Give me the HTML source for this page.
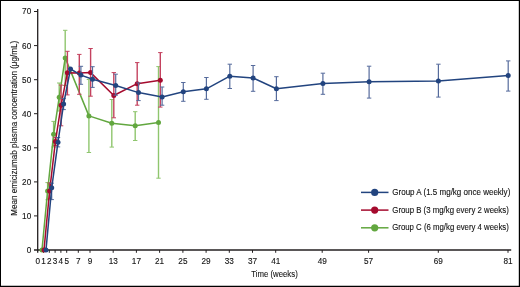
<!DOCTYPE html>
<html><head><meta charset="utf-8"><title>Mean emicizumab plasma concentration</title>
<style>
html,body{margin:0;padding:0;background:#fff;}
body{width:520px;height:287px;overflow:hidden;position:relative;}
svg{position:absolute;left:0;top:0;display:block;}
text{font-family:"Liberation Sans",sans-serif;fill:#151213;stroke:#151213;stroke-width:0.12px;}
.tx{filter:grayscale(1);}
</style></head><body>
<svg width="520" height="287" viewBox="0 0 520 287">
<rect x="0" y="0" width="520" height="287" fill="#fff"/>

<path d="M37.7 9V252.8" stroke="#231f20" stroke-width="1.3" fill="none"/>
<path d="M34 250H511.2" stroke="#231f20" stroke-width="1.3" fill="none"/>
<path d="M34 215.9H37.7" stroke="#231f20" stroke-width="1" fill="none"/>
<path d="M34 181.9H37.7" stroke="#231f20" stroke-width="1" fill="none"/>
<path d="M34 147.8H37.7" stroke="#231f20" stroke-width="1" fill="none"/>
<path d="M34 113.7H37.7" stroke="#231f20" stroke-width="1" fill="none"/>
<path d="M34 79.7H37.7" stroke="#231f20" stroke-width="1" fill="none"/>
<path d="M34 45.6H37.7" stroke="#231f20" stroke-width="1" fill="none"/>
<path d="M34 11.5H37.7" stroke="#231f20" stroke-width="1" fill="none"/>
<text class="tx" x="31.2" y="252.9" font-size="8.2" text-anchor="end">0</text>
<text class="tx" x="31.2" y="218.8" font-size="8.2" text-anchor="end">10</text>
<text class="tx" x="31.2" y="184.8" font-size="8.2" text-anchor="end">20</text>
<text class="tx" x="31.2" y="150.7" font-size="8.2" text-anchor="end">30</text>
<text class="tx" x="31.2" y="116.6" font-size="8.2" text-anchor="end">40</text>
<text class="tx" x="31.2" y="82.6" font-size="8.2" text-anchor="end">50</text>
<text class="tx" x="31.2" y="48.5" font-size="8.2" text-anchor="end">60</text>
<text class="tx" x="31.2" y="14.4" font-size="8.2" text-anchor="end">70</text>
<text class="tx" x="37.7" y="263.6" font-size="8.2" text-anchor="middle">0</text>
<path d="M43.5 250V252.8" stroke="#231f20" stroke-width="1" fill="none"/>
<text class="tx" x="43.5" y="263.6" font-size="8.2" text-anchor="middle">1</text>
<path d="M49.3 250V252.8" stroke="#231f20" stroke-width="1" fill="none"/>
<text class="tx" x="49.3" y="263.6" font-size="8.2" text-anchor="middle">2</text>
<path d="M55.1 250V252.8" stroke="#231f20" stroke-width="1" fill="none"/>
<text class="tx" x="55.1" y="263.6" font-size="8.2" text-anchor="middle">3</text>
<path d="M60.9 250V252.8" stroke="#231f20" stroke-width="1" fill="none"/>
<text class="tx" x="60.9" y="263.6" font-size="8.2" text-anchor="middle">4</text>
<path d="M66.7 250V252.8" stroke="#231f20" stroke-width="1" fill="none"/>
<text class="tx" x="66.7" y="263.6" font-size="8.2" text-anchor="middle">5</text>
<path d="M78.3 250V252.8" stroke="#231f20" stroke-width="1" fill="none"/>
<text class="tx" x="78.3" y="263.6" font-size="8.2" text-anchor="middle">7</text>
<path d="M90.0 250V252.8" stroke="#231f20" stroke-width="1" fill="none"/>
<text class="tx" x="90.0" y="263.6" font-size="8.2" text-anchor="middle">9</text>
<path d="M113.2 250V252.8" stroke="#231f20" stroke-width="1" fill="none"/>
<text class="tx" x="113.2" y="263.6" font-size="8.2" text-anchor="middle">13</text>
<path d="M136.4 250V252.8" stroke="#231f20" stroke-width="1" fill="none"/>
<text class="tx" x="136.4" y="263.6" font-size="8.2" text-anchor="middle">17</text>
<path d="M159.6 250V252.8" stroke="#231f20" stroke-width="1" fill="none"/>
<text class="tx" x="159.6" y="263.6" font-size="8.2" text-anchor="middle">21</text>
<path d="M182.9 250V252.8" stroke="#231f20" stroke-width="1" fill="none"/>
<text class="tx" x="182.9" y="263.6" font-size="8.2" text-anchor="middle">25</text>
<path d="M206.1 250V252.8" stroke="#231f20" stroke-width="1" fill="none"/>
<text class="tx" x="206.1" y="263.6" font-size="8.2" text-anchor="middle">29</text>
<path d="M229.3 250V252.8" stroke="#231f20" stroke-width="1" fill="none"/>
<text class="tx" x="229.3" y="263.6" font-size="8.2" text-anchor="middle">33</text>
<path d="M252.5 250V252.8" stroke="#231f20" stroke-width="1" fill="none"/>
<text class="tx" x="252.5" y="263.6" font-size="8.2" text-anchor="middle">37</text>
<path d="M275.7 250V252.8" stroke="#231f20" stroke-width="1" fill="none"/>
<text class="tx" x="275.7" y="263.6" font-size="8.2" text-anchor="middle">41</text>
<path d="M322.2 250V252.8" stroke="#231f20" stroke-width="1" fill="none"/>
<text class="tx" x="322.2" y="263.6" font-size="8.2" text-anchor="middle">49</text>
<path d="M368.6 250V252.8" stroke="#231f20" stroke-width="1" fill="none"/>
<text class="tx" x="368.6" y="263.6" font-size="8.2" text-anchor="middle">57</text>
<path d="M438.3 250V252.8" stroke="#231f20" stroke-width="1" fill="none"/>
<text class="tx" x="438.3" y="263.6" font-size="8.2" text-anchor="middle">69</text>
<path d="M508.0 250V252.8" stroke="#231f20" stroke-width="1" fill="none"/>
<text class="tx" x="508.0" y="263.6" font-size="8.2" text-anchor="middle">81</text>
<text class="tx" x="274.5" y="277.2" font-size="9.8" text-anchor="middle" textLength="46.5" lengthAdjust="spacingAndGlyphs">Time (weeks)</text>
<text class="tx" transform="translate(16.9 128.3) rotate(-90)" font-size="9.8" text-anchor="middle" textLength="175" lengthAdjust="spacingAndGlyphs">Mean emicizumab plasma concentration (μg/mL)</text>
<path d="M47.6 182.6V199.8" stroke="#8fc66e" stroke-width="1.4" fill="none"/>
<path d="M45.4 182.6h4.4M45.4 199.8h4.4" stroke="#8fc66e" stroke-width="1" fill="none"/>
<path d="M53.6 121.4V147.0" stroke="#8fc66e" stroke-width="1.4" fill="none"/>
<path d="M51.4 121.4h4.4M51.4 147.0h4.4" stroke="#8fc66e" stroke-width="1" fill="none"/>
<path d="M59.2 83.0V111.0" stroke="#8fc66e" stroke-width="1.4" fill="none"/>
<path d="M57.0 83.0h4.4M57.0 111.0h4.4" stroke="#8fc66e" stroke-width="1" fill="none"/>
<path d="M65.2 30.3V85.5" stroke="#8fc66e" stroke-width="1.4" fill="none"/>
<path d="M63.0 30.3h4.4M63.0 85.5h4.4" stroke="#8fc66e" stroke-width="1" fill="none"/>
<path d="M88.9 79.5V152.5" stroke="#8fc66e" stroke-width="1.4" fill="none"/>
<path d="M86.7 79.5h4.4M86.7 152.5h4.4" stroke="#8fc66e" stroke-width="1" fill="none"/>
<path d="M111.8 99.5V147.1" stroke="#8fc66e" stroke-width="1.4" fill="none"/>
<path d="M109.6 99.5h4.4M109.6 147.1h4.4" stroke="#8fc66e" stroke-width="1" fill="none"/>
<path d="M135.2 111.7V140.5" stroke="#8fc66e" stroke-width="1.4" fill="none"/>
<path d="M133.0 111.7h4.4M133.0 140.5h4.4" stroke="#8fc66e" stroke-width="1" fill="none"/>
<path d="M158.5 66.6V178.2" stroke="#8fc66e" stroke-width="1.4" fill="none"/>
<path d="M156.3 66.6h4.4M156.3 178.2h4.4" stroke="#8fc66e" stroke-width="1" fill="none"/>
<path d="M42.0 249.9L47.6 191.0L53.6 134.3L59.2 97.3L65.2 57.9L88.9 115.9L111.8 123.2L135.2 125.8L158.5 122.5" stroke="#62a73f" stroke-width="1.5" fill="none" stroke-linejoin="round"/>
<circle cx="42.0" cy="249.9" r="2.5" fill="#62a73f"/>
<circle cx="47.6" cy="191.0" r="2.5" fill="#62a73f"/>
<circle cx="53.6" cy="134.3" r="2.5" fill="#62a73f"/>
<circle cx="59.2" cy="97.3" r="2.5" fill="#62a73f"/>
<circle cx="65.2" cy="57.9" r="2.5" fill="#62a73f"/>
<circle cx="88.9" cy="115.9" r="2.5" fill="#62a73f"/>
<circle cx="111.8" cy="123.2" r="2.5" fill="#62a73f"/>
<circle cx="135.2" cy="125.8" r="2.5" fill="#62a73f"/>
<circle cx="158.5" cy="122.5" r="2.5" fill="#62a73f"/>
<path d="M49.6 183.0V199.0" stroke="#c4425f" stroke-width="1.4" fill="none"/>
<path d="M47.4 183.0h4.4M47.4 199.0h4.4" stroke="#c4425f" stroke-width="1" fill="none"/>
<path d="M55.4 137.5V145.5" stroke="#c4425f" stroke-width="1.4" fill="none"/>
<path d="M53.2 137.5h4.4M53.2 145.5h4.4" stroke="#c4425f" stroke-width="1" fill="none"/>
<path d="M61.1 85.1V125.8" stroke="#c4425f" stroke-width="1.4" fill="none"/>
<path d="M58.9 85.1h4.4M58.9 125.8h4.4" stroke="#c4425f" stroke-width="1" fill="none"/>
<path d="M67.4 51.3V94.9" stroke="#c4425f" stroke-width="1.4" fill="none"/>
<path d="M65.2 51.3h4.4M65.2 94.9h4.4" stroke="#c4425f" stroke-width="1" fill="none"/>
<path d="M79.3 54.4V94.3" stroke="#c4425f" stroke-width="1.4" fill="none"/>
<path d="M77.1 54.4h4.4M77.1 94.3h4.4" stroke="#c4425f" stroke-width="1" fill="none"/>
<path d="M90.6 48.5V96.2" stroke="#c4425f" stroke-width="1.4" fill="none"/>
<path d="M88.4 48.5h4.4M88.4 96.2h4.4" stroke="#c4425f" stroke-width="1" fill="none"/>
<path d="M113.8 72.6V117.8" stroke="#c4425f" stroke-width="1.4" fill="none"/>
<path d="M111.6 72.6h4.4M111.6 117.8h4.4" stroke="#c4425f" stroke-width="1" fill="none"/>
<path d="M137.2 62.6V105.2" stroke="#c4425f" stroke-width="1.4" fill="none"/>
<path d="M135.0 62.6h4.4M135.0 105.2h4.4" stroke="#c4425f" stroke-width="1" fill="none"/>
<path d="M160.3 52.6V107.1" stroke="#c4425f" stroke-width="1.4" fill="none"/>
<path d="M158.1 52.6h4.4M158.1 107.1h4.4" stroke="#c4425f" stroke-width="1" fill="none"/>
<path d="M44.0 249.9L49.6 191.1L55.4 141.5L61.1 105.2L67.4 72.7L79.3 73.0L90.6 72.6L113.8 95.5L137.2 83.7L160.3 80.3" stroke="#a50a2d" stroke-width="1.5" fill="none" stroke-linejoin="round"/>
<circle cx="44.0" cy="249.9" r="2.5" fill="#a50a2d"/>
<circle cx="49.6" cy="191.1" r="2.5" fill="#a50a2d"/>
<circle cx="55.4" cy="141.5" r="2.5" fill="#a50a2d"/>
<circle cx="61.1" cy="105.2" r="2.5" fill="#a50a2d"/>
<circle cx="67.4" cy="72.7" r="2.5" fill="#a50a2d"/>
<circle cx="79.3" cy="73.0" r="2.5" fill="#a50a2d"/>
<circle cx="90.6" cy="72.6" r="2.5" fill="#a50a2d"/>
<circle cx="113.8" cy="95.5" r="2.5" fill="#a50a2d"/>
<circle cx="137.2" cy="83.7" r="2.5" fill="#a50a2d"/>
<circle cx="160.3" cy="80.3" r="2.5" fill="#a50a2d"/>
<path d="M51.7 183.2V199.6" stroke="#566b9c" stroke-width="1.2" fill="none"/>
<path d="M49.5 183.2h4.4M49.5 199.6h4.4" stroke="#566b9c" stroke-width="1" fill="none"/>
<path d="M58.0 137.5V146.9" stroke="#566b9c" stroke-width="1.2" fill="none"/>
<path d="M55.8 137.5h4.4M55.8 146.9h4.4" stroke="#566b9c" stroke-width="1" fill="none"/>
<path d="M63.6 98.4V109.6" stroke="#566b9c" stroke-width="1.2" fill="none"/>
<path d="M61.4 98.4h4.4M61.4 109.6h4.4" stroke="#566b9c" stroke-width="1" fill="none"/>
<path d="M80.9 66.3V84.3" stroke="#566b9c" stroke-width="1.2" fill="none"/>
<path d="M78.7 66.3h4.4M78.7 84.3h4.4" stroke="#566b9c" stroke-width="1" fill="none"/>
<path d="M92.5 66.7V87.4" stroke="#566b9c" stroke-width="1.2" fill="none"/>
<path d="M90.3 66.7h4.4M90.3 87.4h4.4" stroke="#566b9c" stroke-width="1" fill="none"/>
<path d="M115.7 74.2V95.2" stroke="#566b9c" stroke-width="1.2" fill="none"/>
<path d="M113.5 74.2h4.4M113.5 95.2h4.4" stroke="#566b9c" stroke-width="1" fill="none"/>
<path d="M138.5 82.9V100.6" stroke="#566b9c" stroke-width="1.2" fill="none"/>
<path d="M136.3 82.9h4.4M136.3 100.6h4.4" stroke="#566b9c" stroke-width="1" fill="none"/>
<path d="M162.1 87.0V105.2" stroke="#566b9c" stroke-width="1.2" fill="none"/>
<path d="M159.9 87.0h4.4M159.9 105.2h4.4" stroke="#566b9c" stroke-width="1" fill="none"/>
<path d="M183.3 82.5V101.3" stroke="#566b9c" stroke-width="1.2" fill="none"/>
<path d="M181.1 82.5h4.4M181.1 101.3h4.4" stroke="#566b9c" stroke-width="1" fill="none"/>
<path d="M206.4 77.5V99.3" stroke="#566b9c" stroke-width="1.2" fill="none"/>
<path d="M204.2 77.5h4.4M204.2 99.3h4.4" stroke="#566b9c" stroke-width="1" fill="none"/>
<path d="M229.8 64.2V88.5" stroke="#566b9c" stroke-width="1.2" fill="none"/>
<path d="M227.6 64.2h4.4M227.6 88.5h4.4" stroke="#566b9c" stroke-width="1" fill="none"/>
<path d="M253.1 65.5V91.3" stroke="#566b9c" stroke-width="1.2" fill="none"/>
<path d="M250.9 65.5h4.4M250.9 91.3h4.4" stroke="#566b9c" stroke-width="1" fill="none"/>
<path d="M276.4 76.7V100.6" stroke="#566b9c" stroke-width="1.2" fill="none"/>
<path d="M274.2 76.7h4.4M274.2 100.6h4.4" stroke="#566b9c" stroke-width="1" fill="none"/>
<path d="M322.9 73.2V94.3" stroke="#566b9c" stroke-width="1.2" fill="none"/>
<path d="M320.7 73.2h4.4M320.7 94.3h4.4" stroke="#566b9c" stroke-width="1" fill="none"/>
<path d="M369.1 66.2V98.1" stroke="#566b9c" stroke-width="1.2" fill="none"/>
<path d="M366.9 66.2h4.4M366.9 98.1h4.4" stroke="#566b9c" stroke-width="1" fill="none"/>
<path d="M438.4 64.2V97.1" stroke="#566b9c" stroke-width="1.2" fill="none"/>
<path d="M436.2 64.2h4.4M436.2 97.1h4.4" stroke="#566b9c" stroke-width="1" fill="none"/>
<path d="M508.2 60.9V91.1" stroke="#566b9c" stroke-width="1.2" fill="none"/>
<path d="M506.0 60.9h4.4M506.0 91.1h4.4" stroke="#566b9c" stroke-width="1" fill="none"/>
<path d="M46.0 249.9L51.7 187.8L58.0 142.2L63.6 104.0L70.5 69.0L80.9 75.1L92.5 79.2L115.7 85.5L138.5 92.6L162.1 97.0L183.3 91.8L206.4 88.8L229.8 76.2L253.1 78.0L276.4 88.8L322.9 83.5L369.1 81.8L438.4 81.0L508.2 75.5" stroke="#22447f" stroke-width="1.5" fill="none" stroke-linejoin="round"/>
<circle cx="46.0" cy="249.9" r="2.5" fill="#22447f"/>
<circle cx="51.7" cy="187.8" r="2.5" fill="#22447f"/>
<circle cx="58.0" cy="142.2" r="2.5" fill="#22447f"/>
<circle cx="63.6" cy="104.0" r="2.5" fill="#22447f"/>
<circle cx="70.5" cy="69.0" r="2.5" fill="#22447f"/>
<circle cx="80.9" cy="75.1" r="2.5" fill="#22447f"/>
<circle cx="92.5" cy="79.2" r="2.5" fill="#22447f"/>
<circle cx="115.7" cy="85.5" r="2.5" fill="#22447f"/>
<circle cx="138.5" cy="92.6" r="2.5" fill="#22447f"/>
<circle cx="162.1" cy="97.0" r="2.5" fill="#22447f"/>
<circle cx="183.3" cy="91.8" r="2.5" fill="#22447f"/>
<circle cx="206.4" cy="88.8" r="2.5" fill="#22447f"/>
<circle cx="229.8" cy="76.2" r="2.5" fill="#22447f"/>
<circle cx="253.1" cy="78.0" r="2.5" fill="#22447f"/>
<circle cx="276.4" cy="88.8" r="2.5" fill="#22447f"/>
<circle cx="322.9" cy="83.5" r="2.5" fill="#22447f"/>
<circle cx="369.1" cy="81.8" r="2.5" fill="#22447f"/>
<circle cx="438.4" cy="81.0" r="2.5" fill="#22447f"/>
<circle cx="508.2" cy="75.5" r="2.5" fill="#22447f"/>
<path d="M361 192.4H388.5" stroke="#22447f" stroke-width="1.5"/><circle cx="374.7" cy="192.4" r="3.6" fill="#22447f"/>
<text class="tx" x="392.3" y="195.0" font-size="8.4" textLength="118" lengthAdjust="spacingAndGlyphs">Group A (1.5 mg/kg once weekly)</text>
<path d="M361 210.1H388.5" stroke="#a50a2d" stroke-width="1.5"/><circle cx="374.7" cy="210.1" r="3.6" fill="#a50a2d"/>
<text class="tx" x="392.3" y="212.7" font-size="8.4" textLength="116.5" lengthAdjust="spacingAndGlyphs">Group B (3 mg/kg every 2 weeks)</text>
<path d="M361 227.8H388.5" stroke="#62a73f" stroke-width="1.5"/><circle cx="374.7" cy="227.8" r="3.6" fill="#62a73f"/>
<text class="tx" x="392.3" y="230.4" font-size="8.4" textLength="116.5" lengthAdjust="spacingAndGlyphs">Group C (6 mg/kg every 4 weeks)</text>
<path d="M0 0H520V287H0Z M1 1V285.8H518.8V1Z" fill="#000" fill-rule="evenodd"/>
</svg></body></html>
